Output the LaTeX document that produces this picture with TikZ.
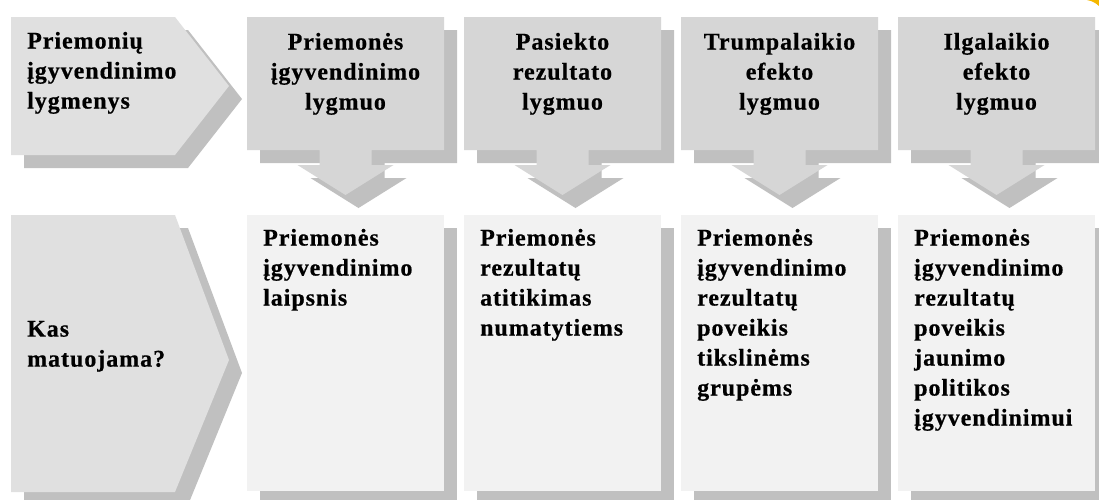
\documentclass[tikz,border=0pt]{standalone}
\usepackage{fontspec}
\setmainfont{Liberation Serif}[LetterSpace=4,BoldFeatures={FakeBold=0.6}]
\definecolor{chevgray}{HTML}{E0E0E0}
\definecolor{boxgray}{HTML}{D6D6D6}
\definecolor{shadegray}{HTML}{C0C0C0}
\definecolor{panelgray}{HTML}{F2F2F2}
\definecolor{markyellow}{HTML}{F5B800}
\tikzset{
    dropshade/.style={fill=shadegray,shift={(13,13)}},
    levelfill/.style={fill=boxgray},
    labeltext/.style={inner sep=0pt,font=\bfseries\fontsize{24}{30}\selectfont}
}
\begin{document}
\begin{tikzpicture}[x=1pt,y=-1pt]
        \useasboundingbox (0,0) rectangle (1099,499);
        \clip (0,0) rectangle (1099,499);
        \fill [white] (0,0) rectangle (1099,499);
        % yellow corner mark
        \fill [markyellow] (1087,0) to[bend left=15] (1099,6) to (1099,0) to (1087,0);
        % left chevrons
        \fill [dropshade] (11,17) to (175,17) to (229,86) to (175,155) to (11,155) to (11,17);
        \fill [chevgray] (11,17) to (175,17) to (229,86) to (175,155) to (11,155) to (11,17);
        \fill [dropshade] (11,215) to (175,215) to (229,360) to (175,492) to (11,492) to (11,215);
        \fill [chevgray] (11,215) to (175,215) to (229,360) to (175,492) to (11,492) to (11,215);
        % level boxes with arrows, measure panels
        \foreach \x in {247,464,681,898} {
        \foreach \sty in {dropshade,levelfill}
        \fill [\sty] (\x,17) to (\x+197,17) to (\x+197,150) to (\x+124.5,150) to (\x+124.5,165)
            to (\x+146.5,165) to (\x+98.5,195) to (\x+50.5,165) to (\x+72.5,165)
            to (\x+72.5,150) to (\x,150) to (\x,17);
        \fill [dropshade] (\x,215) rectangle (\x+197,491);
        \fill [panelgray] (\x,215) rectangle (\x+197,491);
        }
        \node (levels) [labeltext,align=left,anchor=north west] at (27,31.7) {Priemonių\\įgyvendinimo\\lygmenys};
        \node (what) [labeltext,align=left,anchor=north west] at (27,320.7) {Kas\\matuojama?};
        \foreach \x/\txt [count=\i] in {247/{Priemonės\\įgyvendinimo\\lygmuo},
            464/{Pasiekto\\rezultato\\lygmuo},
            681/{Trumpalaikio\\efekto\\lygmuo},
            898/{Ilgalaikio\\efekto\\lygmuo}}
        \node (level\i) [labeltext,align=center,anchor=north] at (\x+98.5,32.7) {\txt};
        \foreach \x/\txt [count=\i] in {247/{Priemonės\\įgyvendinimo\\laipsnis},
            464/{Priemonės\\rezultatų\\atitikimas\\numatytiems},
            681/{Priemonės\\įgyvendinimo\\rezultatų\\poveikis\\tikslinėms\\grupėms},
            898/{Priemonės\\įgyvendinimo\\rezultatų\\poveikis\\jaunimo\\politikos\\įgyvendinimui}}
        \node (measure\i) [labeltext,align=left,anchor=north west] at (\x+16,228.7) {\txt};
    \end{tikzpicture}
\end{document}
